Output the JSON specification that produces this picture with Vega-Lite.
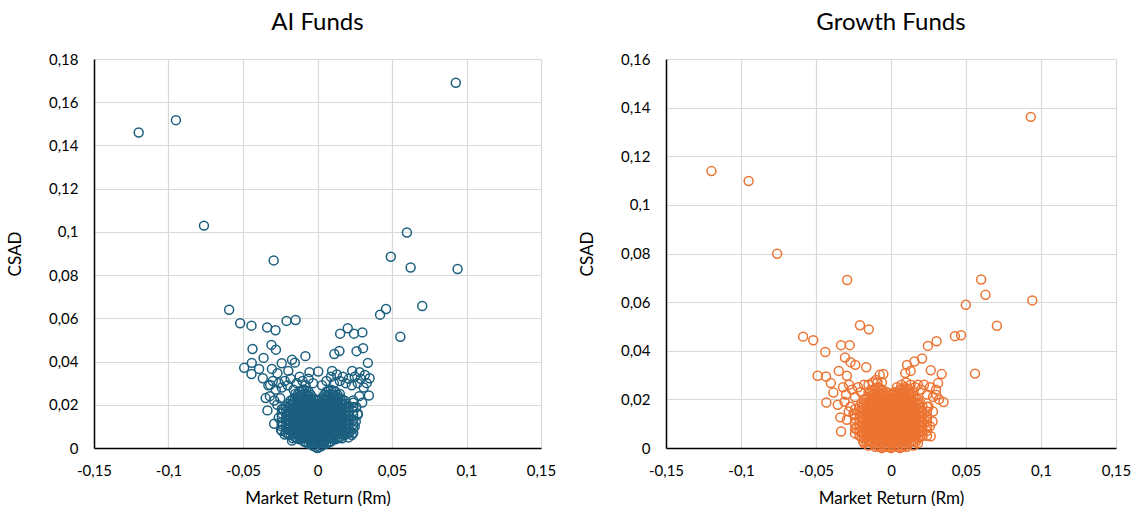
{
"$schema": "https://vega.github.io/schema/vega-lite/v6.json",
"background": "white",
"padding": {"left": 6, "top": 11, "right": 5, "bottom": 0},
"spacing": 22,
"config": {
"locale": {"number": {"decimal": ",", "thousands": ".", "grouping": [3], "currency": ["", " €"], "minus": "-"}},
"view": {"stroke": null},
"font": "Lato",
"axis": {"ticks": false, "grid": true, "gridColor": "#d9d9d9", "gridWidth": 1.2, "domainColor": "#000000", "domainWidth": 1.5, "labelFontSize": 15, "labelColor": "#000000", "labelFont": "Lato", "titleFont": "Lato", "titleFontSize": 17, "titleFontWeight": "normal", "titleColor": "#000000", "labelFlush": false, "labelOverlap": false, "labelBound": false},
"axisX": {"labelPadding": 15, "titlePadding": 12},
"axisY": {"labelPadding": 16, "titlePadding": 24},
"title": {"fontSize": 24, "fontWeight": "normal", "font": "Lato", "color": "#000000", "frame": "group", "anchor": "middle", "offset": 17}
},
"datasets": {
"ai": [
{"Rm":-0.120,"CSAD":0.146},{"Rm":-0.095,"CSAD":0.1517},{"Rm":0.0928,"CSAD":0.169},{"Rm":-0.0762,"CSAD":0.1029},{"Rm":-0.0294,"CSAD":0.0868},{"Rm":0.060,"CSAD":0.0997},{"Rm":0.0492,"CSAD":0.0885},{"Rm":0.0625,"CSAD":0.0835},{"Rm":0.094,"CSAD":0.0828},{"Rm":0.0703,"CSAD":0.0657},{"Rm":-0.0593,"CSAD":0.064},{"Rm":0.046,"CSAD":0.0643},{"Rm":0.042,"CSAD":0.0617},{"Rm":0.0556,"CSAD":0.0515},{"Rm":-0.0519,"CSAD":0.0577},{"Rm":-0.0443,"CSAD":0.0566},{"Rm":-0.0338,"CSAD":0.0558},{"Rm":-0.0282,"CSAD":0.0545},{"Rm":-0.0208,"CSAD":0.0588},{"Rm":-0.0147,"CSAD":0.0592},{"Rm":0.0203,"CSAD":0.0554},{"Rm":0.0152,"CSAD":0.0529},{"Rm":0.0245,"CSAD":0.0529},{"Rm":0.0301,"CSAD":0.0535},{"Rm":-0.0309,"CSAD":0.0477},{"Rm":-0.0279,"CSAD":0.0455},{"Rm":-0.0436,"CSAD":0.0458},{"Rm":-0.0081,"CSAD":0.0425},{"Rm":0.0113,"CSAD":0.0435},{"Rm":0.0147,"CSAD":0.0449},{"Rm":0.0262,"CSAD":0.0448},{"Rm":0.0306,"CSAD":0.0462},{"Rm":0.0338,"CSAD":0.0394},{"Rm":-0.0492,"CSAD":0.0371},{"Rm":-0.0443,"CSAD":0.0342},{"Rm":-0.0441,"CSAD":0.0394},{"Rm":-0.0362,"CSAD":0.0417},{"Rm":-0.0392,"CSAD":0.0366},{"Rm":-0.0171,"CSAD":0.0408},{"Rm":-0.0152,"CSAD":0.0395},{"Rm":-0.024,"CSAD":0.0392},{"Rm":-0.0336,"CSAD":0.0174},{"Rm":-0.0291,"CSAD":0.0112},{"Rm":-0.0348,"CSAD":0.0231},{"Rm":-0.0171,"CSAD":0.0034},{"Rm":0.0345,"CSAD":0.0243},{"Rm":0.035,"CSAD":0.0323},{"Rm":-0.0318,"CSAD":0.0292},{"Rm":-0.0054,"CSAD":0.0351},{"Rm":0.0005,"CSAD":0.0354},{"Rm":0.0098,"CSAD":0.0357},{"Rm":0.0233,"CSAD":0.0357},{"Rm":0.0282,"CSAD":0.0351},{"Rm":0.0318,"CSAD":0.0338},{"Rm":-0.0367,"CSAD":0.0323},{"Rm":-0.0306,"CSAD":0.0366},{"Rm":-0.0269,"CSAD":0.0346},{"Rm":-0.0196,"CSAD":0.0357},{"Rm":0.022,"CSAD":0.0077},{"Rm":0.0208,"CSAD":0.0049},{"Rm":0.027,"CSAD":0.0154},{"Rm":0.0257,"CSAD":0.0123},{"Rm":-0.0245,"CSAD":0.0085},{"Rm":-0.022,"CSAD":0.0062},
{"Rm":-0.033,"CSAD":0.029},{"Rm":-0.030,"CSAD":0.031},{"Rm":-0.028,"CSAD":0.027},{"Rm":-0.026,"CSAD":0.030},{"Rm":-0.024,"CSAD":0.028},{"Rm":-0.022,"CSAD":0.031},{"Rm":-0.020,"CSAD":0.029},{"Rm":-0.018,"CSAD":0.032},{"Rm":-0.016,"CSAD":0.027},{"Rm":-0.014,"CSAD":0.030},{"Rm":-0.012,"CSAD":0.033},{"Rm":-0.010,"CSAD":0.031},{"Rm":-0.008,"CSAD":0.029},{"Rm":-0.006,"CSAD":0.032},{"Rm":-0.003,"CSAD":0.030},{"Rm":0.003,"CSAD":0.029},{"Rm":0.006,"CSAD":0.031},{"Rm":0.009,"CSAD":0.033},{"Rm":0.011,"CSAD":0.030},{"Rm":0.013,"CSAD":0.034},{"Rm":0.015,"CSAD":0.031},{"Rm":0.017,"CSAD":0.033},{"Rm":0.019,"CSAD":0.030},{"Rm":0.021,"CSAD":0.032},{"Rm":0.023,"CSAD":0.029},{"Rm":0.025,"CSAD":0.033},{"Rm":0.027,"CSAD":0.030},{"Rm":0.029,"CSAD":0.032},{"Rm":0.031,"CSAD":0.028},{"Rm":0.033,"CSAD":0.030},{"Rm":-0.032,"CSAD":0.024},{"Rm":-0.029,"CSAD":0.022},{"Rm":-0.027,"CSAD":0.020},{"Rm":-0.025,"CSAD":0.023},{"Rm":-0.023,"CSAD":0.018},{"Rm":0.024,"CSAD":0.022},{"Rm":0.026,"CSAD":0.019},{"Rm":0.028,"CSAD":0.024},{"Rm":0.030,"CSAD":0.021},{"Rm":0.027,"CSAD":0.016},{"Rm":-0.026,"CSAD":0.014},{"Rm":-0.024,"CSAD":0.011},{"Rm":0.025,"CSAD":0.010},{"Rm":0.023,"CSAD":0.006},
{"Rm":-0.024,"CSAD":0.008},{"Rm":-0.024,"CSAD":0.010},{"Rm":-0.024,"CSAD":0.012},{"Rm":-0.024,"CSAD":0.014},{"Rm":-0.024,"CSAD":0.016},{"Rm":-0.024,"CSAD":0.018},
{"Rm":0.024,"CSAD":0.007},{"Rm":0.024,"CSAD":0.009},{"Rm":0.024,"CSAD":0.011},{"Rm":0.024,"CSAD":0.013},{"Rm":0.024,"CSAD":0.015},{"Rm":0.024,"CSAD":0.017},{"Rm":0.024,"CSAD":0.019},{"Rm":0.024,"CSAD":0.021},
{"Rm":-0.021,"CSAD":0.007},{"Rm":-0.021,"CSAD":0.009},{"Rm":-0.021,"CSAD":0.011},{"Rm":-0.021,"CSAD":0.013},{"Rm":-0.021,"CSAD":0.015},{"Rm":-0.021,"CSAD":0.017},{"Rm":-0.021,"CSAD":0.019},
{"Rm":-0.018,"CSAD":0.006},{"Rm":-0.018,"CSAD":0.008},{"Rm":-0.018,"CSAD":0.010},{"Rm":-0.018,"CSAD":0.012},{"Rm":-0.018,"CSAD":0.014},{"Rm":-0.018,"CSAD":0.016},{"Rm":-0.018,"CSAD":0.018},{"Rm":-0.018,"CSAD":0.020},{"Rm":-0.018,"CSAD":0.022},
{"Rm":-0.015,"CSAD":0.005},{"Rm":-0.015,"CSAD":0.007},{"Rm":-0.015,"CSAD":0.009},{"Rm":-0.015,"CSAD":0.011},{"Rm":-0.015,"CSAD":0.013},{"Rm":-0.015,"CSAD":0.015},{"Rm":-0.015,"CSAD":0.017},{"Rm":-0.015,"CSAD":0.019},{"Rm":-0.015,"CSAD":0.021},{"Rm":-0.015,"CSAD":0.023},{"Rm":-0.015,"CSAD":0.025},
{"Rm":-0.012,"CSAD":0.004},{"Rm":-0.012,"CSAD":0.006},{"Rm":-0.012,"CSAD":0.008},{"Rm":-0.012,"CSAD":0.010},{"Rm":-0.012,"CSAD":0.012},{"Rm":-0.012,"CSAD":0.014},{"Rm":-0.012,"CSAD":0.016},{"Rm":-0.012,"CSAD":0.018},{"Rm":-0.012,"CSAD":0.020},{"Rm":-0.012,"CSAD":0.022},{"Rm":-0.012,"CSAD":0.024},{"Rm":-0.012,"CSAD":0.026},
{"Rm":-0.009,"CSAD":0.003},{"Rm":-0.009,"CSAD":0.005},{"Rm":-0.009,"CSAD":0.007},{"Rm":-0.009,"CSAD":0.009},{"Rm":-0.009,"CSAD":0.011},{"Rm":-0.009,"CSAD":0.013},{"Rm":-0.009,"CSAD":0.015},{"Rm":-0.009,"CSAD":0.017},{"Rm":-0.009,"CSAD":0.019},{"Rm":-0.009,"CSAD":0.021},{"Rm":-0.009,"CSAD":0.023},{"Rm":-0.009,"CSAD":0.025},{"Rm":-0.009,"CSAD":0.027},
{"Rm":-0.006,"CSAD":0.002},{"Rm":-0.006,"CSAD":0.004},{"Rm":-0.006,"CSAD":0.006},{"Rm":-0.006,"CSAD":0.008},{"Rm":-0.006,"CSAD":0.010},{"Rm":-0.006,"CSAD":0.012},{"Rm":-0.006,"CSAD":0.014},{"Rm":-0.006,"CSAD":0.016},{"Rm":-0.006,"CSAD":0.018},{"Rm":-0.006,"CSAD":0.020},{"Rm":-0.006,"CSAD":0.022},{"Rm":-0.006,"CSAD":0.024},{"Rm":-0.006,"CSAD":0.026},
{"Rm":-0.003,"CSAD":0.001},{"Rm":-0.003,"CSAD":0.003},{"Rm":-0.003,"CSAD":0.005},{"Rm":-0.003,"CSAD":0.007},{"Rm":-0.003,"CSAD":0.009},{"Rm":-0.003,"CSAD":0.011},{"Rm":-0.003,"CSAD":0.013},{"Rm":-0.003,"CSAD":0.015},{"Rm":-0.003,"CSAD":0.017},{"Rm":-0.003,"CSAD":0.019},{"Rm":-0.003,"CSAD":0.021},{"Rm":-0.003,"CSAD":0.023},
{"Rm":0.0,"CSAD":0.000},{"Rm":0.0,"CSAD":0.002},{"Rm":0.0,"CSAD":0.004},{"Rm":0.0,"CSAD":0.006},{"Rm":0.0,"CSAD":0.008},{"Rm":0.0,"CSAD":0.010},{"Rm":0.0,"CSAD":0.012},{"Rm":0.0,"CSAD":0.014},{"Rm":0.0,"CSAD":0.016},{"Rm":0.0,"CSAD":0.018},{"Rm":0.0,"CSAD":0.020},{"Rm":0.0,"CSAD":0.022},
{"Rm":0.003,"CSAD":0.001},{"Rm":0.003,"CSAD":0.003},{"Rm":0.003,"CSAD":0.005},{"Rm":0.003,"CSAD":0.007},{"Rm":0.003,"CSAD":0.009},{"Rm":0.003,"CSAD":0.011},{"Rm":0.003,"CSAD":0.013},{"Rm":0.003,"CSAD":0.015},{"Rm":0.003,"CSAD":0.017},{"Rm":0.003,"CSAD":0.019},{"Rm":0.003,"CSAD":0.021},{"Rm":0.003,"CSAD":0.023},
{"Rm":0.006,"CSAD":0.002},{"Rm":0.006,"CSAD":0.004},{"Rm":0.006,"CSAD":0.006},{"Rm":0.006,"CSAD":0.008},{"Rm":0.006,"CSAD":0.010},{"Rm":0.006,"CSAD":0.012},{"Rm":0.006,"CSAD":0.014},{"Rm":0.006,"CSAD":0.016},{"Rm":0.006,"CSAD":0.018},{"Rm":0.006,"CSAD":0.020},{"Rm":0.006,"CSAD":0.022},{"Rm":0.006,"CSAD":0.024},{"Rm":0.006,"CSAD":0.026},
{"Rm":0.009,"CSAD":0.003},{"Rm":0.009,"CSAD":0.005},{"Rm":0.009,"CSAD":0.007},{"Rm":0.009,"CSAD":0.009},{"Rm":0.009,"CSAD":0.011},{"Rm":0.009,"CSAD":0.013},{"Rm":0.009,"CSAD":0.015},{"Rm":0.009,"CSAD":0.017},{"Rm":0.009,"CSAD":0.019},{"Rm":0.009,"CSAD":0.021},{"Rm":0.009,"CSAD":0.023},{"Rm":0.009,"CSAD":0.025},{"Rm":0.009,"CSAD":0.027},
{"Rm":0.012,"CSAD":0.004},{"Rm":0.012,"CSAD":0.006},{"Rm":0.012,"CSAD":0.008},{"Rm":0.012,"CSAD":0.010},{"Rm":0.012,"CSAD":0.012},{"Rm":0.012,"CSAD":0.014},{"Rm":0.012,"CSAD":0.016},{"Rm":0.012,"CSAD":0.018},{"Rm":0.012,"CSAD":0.020},{"Rm":0.012,"CSAD":0.022},{"Rm":0.012,"CSAD":0.024},{"Rm":0.012,"CSAD":0.026},
{"Rm":0.015,"CSAD":0.005},{"Rm":0.015,"CSAD":0.007},{"Rm":0.015,"CSAD":0.009},{"Rm":0.015,"CSAD":0.011},{"Rm":0.015,"CSAD":0.013},{"Rm":0.015,"CSAD":0.015},{"Rm":0.015,"CSAD":0.017},{"Rm":0.015,"CSAD":0.019},{"Rm":0.015,"CSAD":0.021},{"Rm":0.015,"CSAD":0.023},{"Rm":0.015,"CSAD":0.025},
{"Rm":0.018,"CSAD":0.006},{"Rm":0.018,"CSAD":0.008},{"Rm":0.018,"CSAD":0.010},{"Rm":0.018,"CSAD":0.012},{"Rm":0.018,"CSAD":0.014},{"Rm":0.018,"CSAD":0.016},{"Rm":0.018,"CSAD":0.018},{"Rm":0.018,"CSAD":0.020},{"Rm":0.018,"CSAD":0.022},
{"Rm":0.021,"CSAD":0.007},{"Rm":0.021,"CSAD":0.009},{"Rm":0.021,"CSAD":0.011},{"Rm":0.021,"CSAD":0.013},{"Rm":0.021,"CSAD":0.015},{"Rm":0.021,"CSAD":0.017},{"Rm":0.021,"CSAD":0.019},
{"Rm":-0.0195,"CSAD":0.0065},{"Rm":-0.0195,"CSAD":0.0085},{"Rm":-0.0195,"CSAD":0.0105},{"Rm":-0.0195,"CSAD":0.0125},{"Rm":-0.0195,"CSAD":0.0145},{"Rm":-0.0195,"CSAD":0.0165},{"Rm":-0.0195,"CSAD":0.0185},{"Rm":-0.0195,"CSAD":0.0205},
{"Rm":-0.0165,"CSAD":0.0045},{"Rm":-0.0165,"CSAD":0.0065},{"Rm":-0.0165,"CSAD":0.0085},{"Rm":-0.0165,"CSAD":0.0105},{"Rm":-0.0165,"CSAD":0.0125},{"Rm":-0.0165,"CSAD":0.0145},{"Rm":-0.0165,"CSAD":0.0165},{"Rm":-0.0165,"CSAD":0.0185},{"Rm":-0.0165,"CSAD":0.0205},{"Rm":-0.0165,"CSAD":0.0225},
{"Rm":-0.0135,"CSAD":0.0045},{"Rm":-0.0135,"CSAD":0.0065},{"Rm":-0.0135,"CSAD":0.0085},{"Rm":-0.0135,"CSAD":0.0105},{"Rm":-0.0135,"CSAD":0.0125},{"Rm":-0.0135,"CSAD":0.0145},{"Rm":-0.0135,"CSAD":0.0165},{"Rm":-0.0135,"CSAD":0.0185},{"Rm":-0.0135,"CSAD":0.0205},{"Rm":-0.0135,"CSAD":0.0225},{"Rm":-0.0135,"CSAD":0.0245},
{"Rm":-0.0105,"CSAD":0.0045},{"Rm":-0.0105,"CSAD":0.0065},{"Rm":-0.0105,"CSAD":0.0085},{"Rm":-0.0105,"CSAD":0.0105},{"Rm":-0.0105,"CSAD":0.0125},{"Rm":-0.0105,"CSAD":0.0145},{"Rm":-0.0105,"CSAD":0.0165},{"Rm":-0.0105,"CSAD":0.0185},{"Rm":-0.0105,"CSAD":0.0205},{"Rm":-0.0105,"CSAD":0.0225},{"Rm":-0.0105,"CSAD":0.0245},{"Rm":-0.0105,"CSAD":0.0265},
{"Rm":-0.0075,"CSAD":0.0025},{"Rm":-0.0075,"CSAD":0.0045},{"Rm":-0.0075,"CSAD":0.0065},{"Rm":-0.0075,"CSAD":0.0085},{"Rm":-0.0075,"CSAD":0.0105},{"Rm":-0.0075,"CSAD":0.0125},{"Rm":-0.0075,"CSAD":0.0145},{"Rm":-0.0075,"CSAD":0.0165},{"Rm":-0.0075,"CSAD":0.0185},{"Rm":-0.0075,"CSAD":0.0205},{"Rm":-0.0075,"CSAD":0.0225},{"Rm":-0.0075,"CSAD":0.0245},{"Rm":-0.0075,"CSAD":0.0265},
{"Rm":-0.0045,"CSAD":0.0025},{"Rm":-0.0045,"CSAD":0.0045},{"Rm":-0.0045,"CSAD":0.0065},{"Rm":-0.0045,"CSAD":0.0085},{"Rm":-0.0045,"CSAD":0.0105},{"Rm":-0.0045,"CSAD":0.0125},{"Rm":-0.0045,"CSAD":0.0145},{"Rm":-0.0045,"CSAD":0.0165},{"Rm":-0.0045,"CSAD":0.0185},{"Rm":-0.0045,"CSAD":0.0205},{"Rm":-0.0045,"CSAD":0.0225},{"Rm":-0.0045,"CSAD":0.0245},
{"Rm":-0.0015,"CSAD":0.0005},{"Rm":-0.0015,"CSAD":0.0025},{"Rm":-0.0015,"CSAD":0.0045},{"Rm":-0.0015,"CSAD":0.0065},{"Rm":-0.0015,"CSAD":0.0085},{"Rm":-0.0015,"CSAD":0.0105},{"Rm":-0.0015,"CSAD":0.0125},{"Rm":-0.0015,"CSAD":0.0145},{"Rm":-0.0015,"CSAD":0.0165},{"Rm":-0.0015,"CSAD":0.0185},{"Rm":-0.0015,"CSAD":0.0205},{"Rm":-0.0015,"CSAD":0.0225},
{"Rm":0.0015,"CSAD":0.0005},{"Rm":0.0015,"CSAD":0.0025},{"Rm":0.0015,"CSAD":0.0045},{"Rm":0.0015,"CSAD":0.0065},{"Rm":0.0015,"CSAD":0.0085},{"Rm":0.0015,"CSAD":0.0105},{"Rm":0.0015,"CSAD":0.0125},{"Rm":0.0015,"CSAD":0.0145},{"Rm":0.0015,"CSAD":0.0165},{"Rm":0.0015,"CSAD":0.0185},{"Rm":0.0015,"CSAD":0.0205},{"Rm":0.0015,"CSAD":0.0225},
{"Rm":0.0045,"CSAD":0.0025},{"Rm":0.0045,"CSAD":0.0045},{"Rm":0.0045,"CSAD":0.0065},{"Rm":0.0045,"CSAD":0.0085},{"Rm":0.0045,"CSAD":0.0105},{"Rm":0.0045,"CSAD":0.0125},{"Rm":0.0045,"CSAD":0.0145},{"Rm":0.0045,"CSAD":0.0165},{"Rm":0.0045,"CSAD":0.0185},{"Rm":0.0045,"CSAD":0.0205},{"Rm":0.0045,"CSAD":0.0225},{"Rm":0.0045,"CSAD":0.0245},
{"Rm":0.0075,"CSAD":0.0025},{"Rm":0.0075,"CSAD":0.0045},{"Rm":0.0075,"CSAD":0.0065},{"Rm":0.0075,"CSAD":0.0085},{"Rm":0.0075,"CSAD":0.0105},{"Rm":0.0075,"CSAD":0.0125},{"Rm":0.0075,"CSAD":0.0145},{"Rm":0.0075,"CSAD":0.0165},{"Rm":0.0075,"CSAD":0.0185},{"Rm":0.0075,"CSAD":0.0205},{"Rm":0.0075,"CSAD":0.0225},{"Rm":0.0075,"CSAD":0.0245},{"Rm":0.0075,"CSAD":0.0265},
{"Rm":0.0105,"CSAD":0.0045},{"Rm":0.0105,"CSAD":0.0065},{"Rm":0.0105,"CSAD":0.0085},{"Rm":0.0105,"CSAD":0.0105},{"Rm":0.0105,"CSAD":0.0125},{"Rm":0.0105,"CSAD":0.0145},{"Rm":0.0105,"CSAD":0.0165},{"Rm":0.0105,"CSAD":0.0185},{"Rm":0.0105,"CSAD":0.0205},{"Rm":0.0105,"CSAD":0.0225},{"Rm":0.0105,"CSAD":0.0245},{"Rm":0.0105,"CSAD":0.0265},
{"Rm":0.0135,"CSAD":0.0045},{"Rm":0.0135,"CSAD":0.0065},{"Rm":0.0135,"CSAD":0.0085},{"Rm":0.0135,"CSAD":0.0105},{"Rm":0.0135,"CSAD":0.0125},{"Rm":0.0135,"CSAD":0.0145},{"Rm":0.0135,"CSAD":0.0165},{"Rm":0.0135,"CSAD":0.0185},{"Rm":0.0135,"CSAD":0.0205},{"Rm":0.0135,"CSAD":0.0225},{"Rm":0.0135,"CSAD":0.0245},
{"Rm":0.0165,"CSAD":0.0045},{"Rm":0.0165,"CSAD":0.0065},{"Rm":0.0165,"CSAD":0.0085},{"Rm":0.0165,"CSAD":0.0105},{"Rm":0.0165,"CSAD":0.0125},{"Rm":0.0165,"CSAD":0.0145},{"Rm":0.0165,"CSAD":0.0165},{"Rm":0.0165,"CSAD":0.0185},{"Rm":0.0165,"CSAD":0.0205},{"Rm":0.0165,"CSAD":0.0225},
{"Rm":0.0195,"CSAD":0.0065},{"Rm":0.0195,"CSAD":0.0085},{"Rm":0.0195,"CSAD":0.0105},{"Rm":0.0195,"CSAD":0.0125},{"Rm":0.0195,"CSAD":0.0145},{"Rm":0.0195,"CSAD":0.0165},{"Rm":0.0195,"CSAD":0.0185},{"Rm":0.0195,"CSAD":0.0205}
],
"growth": [
{"Rm":-0.1197,"CSAD":0.1139},{"Rm":-0.0949,"CSAD":0.1098},{"Rm":0.0932,"CSAD":0.1362},{"Rm":-0.0759,"CSAD":0.0799},{"Rm":-0.0292,"CSAD":0.0691},{"Rm":0.0601,"CSAD":0.0693},{"Rm":0.063,"CSAD":0.063},{"Rm":0.0499,"CSAD":0.0589},{"Rm":0.0942,"CSAD":0.0607},{"Rm":0.0706,"CSAD":0.0503},{"Rm":-0.0207,"CSAD":0.0505},{"Rm":-0.0148,"CSAD":0.0488},{"Rm":-0.0586,"CSAD":0.0458},{"Rm":-0.0518,"CSAD":0.0443},{"Rm":-0.0438,"CSAD":0.0395},{"Rm":-0.0333,"CSAD":0.0423},{"Rm":-0.0275,"CSAD":0.0423},{"Rm":0.0426,"CSAD":0.046},{"Rm":0.0467,"CSAD":0.0464},{"Rm":0.0304,"CSAD":0.0439},{"Rm":0.0246,"CSAD":0.042},{"Rm":0.056,"CSAD":0.0306},{"Rm":0.0207,"CSAD":0.0368},{"Rm":0.0156,"CSAD":0.0356},{"Rm":-0.0307,"CSAD":0.0372},{"Rm":-0.027,"CSAD":0.0353},{"Rm":-0.0238,"CSAD":0.0342},{"Rm":-0.0165,"CSAD":0.0332},{"Rm":-0.0489,"CSAD":0.0297},{"Rm":-0.0433,"CSAD":0.0294},{"Rm":-0.0348,"CSAD":0.0317},{"Rm":-0.0294,"CSAD":0.0297},{"Rm":-0.0401,"CSAD":0.0267},{"Rm":-0.0384,"CSAD":0.0228},{"Rm":-0.0431,"CSAD":0.0187},{"Rm":-0.0333,"CSAD":0.0068},{"Rm":-0.0338,"CSAD":0.0126},{"Rm":-0.0355,"CSAD":0.0178},{"Rm":0.0265,"CSAD":0.032},{"Rm":0.0338,"CSAD":0.0304},{"Rm":0.0314,"CSAD":0.0267},{"Rm":0.035,"CSAD":0.0189},{"Rm":0.0265,"CSAD":0.0048},{"Rm":0.0107,"CSAD":0.0342},{"Rm":0.0131,"CSAD":0.0317},{"Rm":-0.0075,"CSAD":0.0301},{"Rm":-0.0051,"CSAD":0.0304},{"Rm":-0.01,"CSAD":0.028},{"Rm":0.0095,"CSAD":0.0308},{"Rm":0.0302,"CSAD":0.0219},{"Rm":0.0277,"CSAD":0.0109},{"Rm":-0.0294,"CSAD":0.0116},{"Rm":-0.0282,"CSAD":0.015},{"Rm":-0.0185,"CSAD":0.0027},
{"Rm":-0.032,"CSAD":0.025},{"Rm":-0.030,"CSAD":0.022},{"Rm":-0.028,"CSAD":0.026},{"Rm":-0.026,"CSAD":0.024},{"Rm":-0.024,"CSAD":0.021},{"Rm":-0.022,"CSAD":0.025},{"Rm":-0.020,"CSAD":0.023},{"Rm":-0.018,"CSAD":0.026},{"Rm":-0.015,"CSAD":0.026},{"Rm":-0.012,"CSAD":0.027},{"Rm":-0.009,"CSAD":0.027},{"Rm":-0.006,"CSAD":0.027},{"Rm":0.004,"CSAD":0.025},{"Rm":0.007,"CSAD":0.026},{"Rm":0.010,"CSAD":0.027},{"Rm":0.013,"CSAD":0.026},{"Rm":0.016,"CSAD":0.025},{"Rm":0.018,"CSAD":0.026},{"Rm":0.020,"CSAD":0.024},{"Rm":0.022,"CSAD":0.026},{"Rm":0.024,"CSAD":0.022},{"Rm":0.026,"CSAD":0.025},{"Rm":0.028,"CSAD":0.021},{"Rm":0.030,"CSAD":0.024},{"Rm":0.032,"CSAD":0.020},{"Rm":-0.031,"CSAD":0.019},{"Rm":-0.027,"CSAD":0.017},{"Rm":-0.025,"CSAD":0.014},{"Rm":0.025,"CSAD":0.017},{"Rm":0.028,"CSAD":0.015},{"Rm":0.024,"CSAD":0.012},{"Rm":0.026,"CSAD":0.009},{"Rm":-0.023,"CSAD":0.008},{"Rm":-0.021,"CSAD":0.005},
{"Rm":-0.024,"CSAD":0.006},{"Rm":-0.024,"CSAD":0.008},{"Rm":-0.024,"CSAD":0.010},{"Rm":-0.024,"CSAD":0.012},{"Rm":-0.024,"CSAD":0.014},{"Rm":-0.024,"CSAD":0.016},
{"Rm":0.024,"CSAD":0.005},{"Rm":0.024,"CSAD":0.007},{"Rm":0.024,"CSAD":0.009},{"Rm":0.024,"CSAD":0.011},{"Rm":0.024,"CSAD":0.013},{"Rm":0.024,"CSAD":0.015},{"Rm":0.024,"CSAD":0.017},
{"Rm":-0.021,"CSAD":0.007},{"Rm":-0.021,"CSAD":0.009},{"Rm":-0.021,"CSAD":0.011},{"Rm":-0.021,"CSAD":0.013},{"Rm":-0.021,"CSAD":0.015},{"Rm":-0.021,"CSAD":0.017},
{"Rm":-0.018,"CSAD":0.002},{"Rm":-0.018,"CSAD":0.004},{"Rm":-0.018,"CSAD":0.006},{"Rm":-0.018,"CSAD":0.008},{"Rm":-0.018,"CSAD":0.010},{"Rm":-0.018,"CSAD":0.012},{"Rm":-0.018,"CSAD":0.014},{"Rm":-0.018,"CSAD":0.016},{"Rm":-0.018,"CSAD":0.018},{"Rm":-0.018,"CSAD":0.020},
{"Rm":-0.015,"CSAD":0.001},{"Rm":-0.015,"CSAD":0.003},{"Rm":-0.015,"CSAD":0.005},{"Rm":-0.015,"CSAD":0.007},{"Rm":-0.015,"CSAD":0.009},{"Rm":-0.015,"CSAD":0.011},{"Rm":-0.015,"CSAD":0.013},{"Rm":-0.015,"CSAD":0.015},{"Rm":-0.015,"CSAD":0.017},{"Rm":-0.015,"CSAD":0.019},{"Rm":-0.015,"CSAD":0.021},{"Rm":-0.015,"CSAD":0.023},
{"Rm":-0.012,"CSAD":0.002},{"Rm":-0.012,"CSAD":0.004},{"Rm":-0.012,"CSAD":0.006},{"Rm":-0.012,"CSAD":0.008},{"Rm":-0.012,"CSAD":0.010},{"Rm":-0.012,"CSAD":0.012},{"Rm":-0.012,"CSAD":0.014},{"Rm":-0.012,"CSAD":0.016},{"Rm":-0.012,"CSAD":0.018},{"Rm":-0.012,"CSAD":0.020},{"Rm":-0.012,"CSAD":0.022},{"Rm":-0.012,"CSAD":0.024},
{"Rm":-0.009,"CSAD":0.001},{"Rm":-0.009,"CSAD":0.003},{"Rm":-0.009,"CSAD":0.005},{"Rm":-0.009,"CSAD":0.007},{"Rm":-0.009,"CSAD":0.009},{"Rm":-0.009,"CSAD":0.011},{"Rm":-0.009,"CSAD":0.013},{"Rm":-0.009,"CSAD":0.015},{"Rm":-0.009,"CSAD":0.017},{"Rm":-0.009,"CSAD":0.019},{"Rm":-0.009,"CSAD":0.021},{"Rm":-0.009,"CSAD":0.023},{"Rm":-0.009,"CSAD":0.025},
{"Rm":-0.006,"CSAD":0.000},{"Rm":-0.006,"CSAD":0.002},{"Rm":-0.006,"CSAD":0.004},{"Rm":-0.006,"CSAD":0.006},{"Rm":-0.006,"CSAD":0.008},{"Rm":-0.006,"CSAD":0.010},{"Rm":-0.006,"CSAD":0.012},{"Rm":-0.006,"CSAD":0.014},{"Rm":-0.006,"CSAD":0.016},{"Rm":-0.006,"CSAD":0.018},{"Rm":-0.006,"CSAD":0.020},{"Rm":-0.006,"CSAD":0.022},{"Rm":-0.006,"CSAD":0.024},
{"Rm":-0.003,"CSAD":0.001},{"Rm":-0.003,"CSAD":0.003},{"Rm":-0.003,"CSAD":0.005},{"Rm":-0.003,"CSAD":0.007},{"Rm":-0.003,"CSAD":0.009},{"Rm":-0.003,"CSAD":0.011},{"Rm":-0.003,"CSAD":0.013},{"Rm":-0.003,"CSAD":0.015},{"Rm":-0.003,"CSAD":0.017},{"Rm":-0.003,"CSAD":0.019},{"Rm":-0.003,"CSAD":0.021},{"Rm":-0.003,"CSAD":0.023},
{"Rm":0.0,"CSAD":0.000},{"Rm":0.0,"CSAD":0.002},{"Rm":0.0,"CSAD":0.004},{"Rm":0.0,"CSAD":0.006},{"Rm":0.0,"CSAD":0.008},{"Rm":0.0,"CSAD":0.010},{"Rm":0.0,"CSAD":0.012},{"Rm":0.0,"CSAD":0.014},{"Rm":0.0,"CSAD":0.016},{"Rm":0.0,"CSAD":0.018},{"Rm":0.0,"CSAD":0.020},{"Rm":0.0,"CSAD":0.022},
{"Rm":0.003,"CSAD":0.001},{"Rm":0.003,"CSAD":0.003},{"Rm":0.003,"CSAD":0.005},{"Rm":0.003,"CSAD":0.007},{"Rm":0.003,"CSAD":0.009},{"Rm":0.003,"CSAD":0.011},{"Rm":0.003,"CSAD":0.013},{"Rm":0.003,"CSAD":0.015},{"Rm":0.003,"CSAD":0.017},{"Rm":0.003,"CSAD":0.019},{"Rm":0.003,"CSAD":0.021},{"Rm":0.003,"CSAD":0.023},
{"Rm":0.006,"CSAD":0.000},{"Rm":0.006,"CSAD":0.002},{"Rm":0.006,"CSAD":0.004},{"Rm":0.006,"CSAD":0.006},{"Rm":0.006,"CSAD":0.008},{"Rm":0.006,"CSAD":0.010},{"Rm":0.006,"CSAD":0.012},{"Rm":0.006,"CSAD":0.014},{"Rm":0.006,"CSAD":0.016},{"Rm":0.006,"CSAD":0.018},{"Rm":0.006,"CSAD":0.020},{"Rm":0.006,"CSAD":0.022},{"Rm":0.006,"CSAD":0.024},
{"Rm":0.009,"CSAD":0.001},{"Rm":0.009,"CSAD":0.003},{"Rm":0.009,"CSAD":0.005},{"Rm":0.009,"CSAD":0.007},{"Rm":0.009,"CSAD":0.009},{"Rm":0.009,"CSAD":0.011},{"Rm":0.009,"CSAD":0.013},{"Rm":0.009,"CSAD":0.015},{"Rm":0.009,"CSAD":0.017},{"Rm":0.009,"CSAD":0.019},{"Rm":0.009,"CSAD":0.021},{"Rm":0.009,"CSAD":0.023},{"Rm":0.009,"CSAD":0.025},
{"Rm":0.012,"CSAD":0.002},{"Rm":0.012,"CSAD":0.004},{"Rm":0.012,"CSAD":0.006},{"Rm":0.012,"CSAD":0.008},{"Rm":0.012,"CSAD":0.010},{"Rm":0.012,"CSAD":0.012},{"Rm":0.012,"CSAD":0.014},{"Rm":0.012,"CSAD":0.016},{"Rm":0.012,"CSAD":0.018},{"Rm":0.012,"CSAD":0.020},{"Rm":0.012,"CSAD":0.022},{"Rm":0.012,"CSAD":0.024},
{"Rm":0.015,"CSAD":0.001},{"Rm":0.015,"CSAD":0.003},{"Rm":0.015,"CSAD":0.005},{"Rm":0.015,"CSAD":0.007},{"Rm":0.015,"CSAD":0.009},{"Rm":0.015,"CSAD":0.011},{"Rm":0.015,"CSAD":0.013},{"Rm":0.015,"CSAD":0.015},{"Rm":0.015,"CSAD":0.017},{"Rm":0.015,"CSAD":0.019},{"Rm":0.015,"CSAD":0.021},{"Rm":0.015,"CSAD":0.023},
{"Rm":0.018,"CSAD":0.002},{"Rm":0.018,"CSAD":0.004},{"Rm":0.018,"CSAD":0.006},{"Rm":0.018,"CSAD":0.008},{"Rm":0.018,"CSAD":0.010},{"Rm":0.018,"CSAD":0.012},{"Rm":0.018,"CSAD":0.014},{"Rm":0.018,"CSAD":0.016},{"Rm":0.018,"CSAD":0.018},{"Rm":0.018,"CSAD":0.020},
{"Rm":0.021,"CSAD":0.005},{"Rm":0.021,"CSAD":0.007},{"Rm":0.021,"CSAD":0.009},{"Rm":0.021,"CSAD":0.011},{"Rm":0.021,"CSAD":0.013},{"Rm":0.021,"CSAD":0.015},{"Rm":0.021,"CSAD":0.017},
{"Rm":-0.0195,"CSAD":0.0045},{"Rm":-0.0195,"CSAD":0.0065},{"Rm":-0.0195,"CSAD":0.0085},{"Rm":-0.0195,"CSAD":0.0105},{"Rm":-0.0195,"CSAD":0.0125},{"Rm":-0.0195,"CSAD":0.0145},{"Rm":-0.0195,"CSAD":0.0165},{"Rm":-0.0195,"CSAD":0.0185},
{"Rm":-0.0165,"CSAD":0.0025},{"Rm":-0.0165,"CSAD":0.0045},{"Rm":-0.0165,"CSAD":0.0065},{"Rm":-0.0165,"CSAD":0.0085},{"Rm":-0.0165,"CSAD":0.0105},{"Rm":-0.0165,"CSAD":0.0125},{"Rm":-0.0165,"CSAD":0.0145},{"Rm":-0.0165,"CSAD":0.0165},{"Rm":-0.0165,"CSAD":0.0185},{"Rm":-0.0165,"CSAD":0.0205},
{"Rm":-0.0135,"CSAD":0.0025},{"Rm":-0.0135,"CSAD":0.0045},{"Rm":-0.0135,"CSAD":0.0065},{"Rm":-0.0135,"CSAD":0.0085},{"Rm":-0.0135,"CSAD":0.0105},{"Rm":-0.0135,"CSAD":0.0125},{"Rm":-0.0135,"CSAD":0.0145},{"Rm":-0.0135,"CSAD":0.0165},{"Rm":-0.0135,"CSAD":0.0185},{"Rm":-0.0135,"CSAD":0.0205},{"Rm":-0.0135,"CSAD":0.0225},
{"Rm":-0.0105,"CSAD":0.0005},{"Rm":-0.0105,"CSAD":0.0025},{"Rm":-0.0105,"CSAD":0.0045},{"Rm":-0.0105,"CSAD":0.0065},{"Rm":-0.0105,"CSAD":0.0085},{"Rm":-0.0105,"CSAD":0.0105},{"Rm":-0.0105,"CSAD":0.0125},{"Rm":-0.0105,"CSAD":0.0145},{"Rm":-0.0105,"CSAD":0.0165},{"Rm":-0.0105,"CSAD":0.0185},{"Rm":-0.0105,"CSAD":0.0205},{"Rm":-0.0105,"CSAD":0.0225},{"Rm":-0.0105,"CSAD":0.0245},
{"Rm":-0.0075,"CSAD":0.0005},{"Rm":-0.0075,"CSAD":0.0025},{"Rm":-0.0075,"CSAD":0.0045},{"Rm":-0.0075,"CSAD":0.0065},{"Rm":-0.0075,"CSAD":0.0085},{"Rm":-0.0075,"CSAD":0.0105},{"Rm":-0.0075,"CSAD":0.0125},{"Rm":-0.0075,"CSAD":0.0145},{"Rm":-0.0075,"CSAD":0.0165},{"Rm":-0.0075,"CSAD":0.0185},{"Rm":-0.0075,"CSAD":0.0205},{"Rm":-0.0075,"CSAD":0.0225},{"Rm":-0.0075,"CSAD":0.0245},
{"Rm":-0.0045,"CSAD":0.0005},{"Rm":-0.0045,"CSAD":0.0025},{"Rm":-0.0045,"CSAD":0.0045},{"Rm":-0.0045,"CSAD":0.0065},{"Rm":-0.0045,"CSAD":0.0085},{"Rm":-0.0045,"CSAD":0.0105},{"Rm":-0.0045,"CSAD":0.0125},{"Rm":-0.0045,"CSAD":0.0145},{"Rm":-0.0045,"CSAD":0.0165},{"Rm":-0.0045,"CSAD":0.0185},{"Rm":-0.0045,"CSAD":0.0205},{"Rm":-0.0045,"CSAD":0.0225},
{"Rm":-0.0015,"CSAD":0.0005},{"Rm":-0.0015,"CSAD":0.0025},{"Rm":-0.0015,"CSAD":0.0045},{"Rm":-0.0015,"CSAD":0.0065},{"Rm":-0.0015,"CSAD":0.0085},{"Rm":-0.0015,"CSAD":0.0105},{"Rm":-0.0015,"CSAD":0.0125},{"Rm":-0.0015,"CSAD":0.0145},{"Rm":-0.0015,"CSAD":0.0165},{"Rm":-0.0015,"CSAD":0.0185},{"Rm":-0.0015,"CSAD":0.0205},{"Rm":-0.0015,"CSAD":0.0225},
{"Rm":0.0015,"CSAD":0.0005},{"Rm":0.0015,"CSAD":0.0025},{"Rm":0.0015,"CSAD":0.0045},{"Rm":0.0015,"CSAD":0.0065},{"Rm":0.0015,"CSAD":0.0085},{"Rm":0.0015,"CSAD":0.0105},{"Rm":0.0015,"CSAD":0.0125},{"Rm":0.0015,"CSAD":0.0145},{"Rm":0.0015,"CSAD":0.0165},{"Rm":0.0015,"CSAD":0.0185},{"Rm":0.0015,"CSAD":0.0205},{"Rm":0.0015,"CSAD":0.0225},
{"Rm":0.0045,"CSAD":0.0005},{"Rm":0.0045,"CSAD":0.0025},{"Rm":0.0045,"CSAD":0.0045},{"Rm":0.0045,"CSAD":0.0065},{"Rm":0.0045,"CSAD":0.0085},{"Rm":0.0045,"CSAD":0.0105},{"Rm":0.0045,"CSAD":0.0125},{"Rm":0.0045,"CSAD":0.0145},{"Rm":0.0045,"CSAD":0.0165},{"Rm":0.0045,"CSAD":0.0185},{"Rm":0.0045,"CSAD":0.0205},{"Rm":0.0045,"CSAD":0.0225},
{"Rm":0.0075,"CSAD":0.0005},{"Rm":0.0075,"CSAD":0.0025},{"Rm":0.0075,"CSAD":0.0045},{"Rm":0.0075,"CSAD":0.0065},{"Rm":0.0075,"CSAD":0.0085},{"Rm":0.0075,"CSAD":0.0105},{"Rm":0.0075,"CSAD":0.0125},{"Rm":0.0075,"CSAD":0.0145},{"Rm":0.0075,"CSAD":0.0165},{"Rm":0.0075,"CSAD":0.0185},{"Rm":0.0075,"CSAD":0.0205},{"Rm":0.0075,"CSAD":0.0225},{"Rm":0.0075,"CSAD":0.0245},
{"Rm":0.0105,"CSAD":0.0005},{"Rm":0.0105,"CSAD":0.0025},{"Rm":0.0105,"CSAD":0.0045},{"Rm":0.0105,"CSAD":0.0065},{"Rm":0.0105,"CSAD":0.0085},{"Rm":0.0105,"CSAD":0.0105},{"Rm":0.0105,"CSAD":0.0125},{"Rm":0.0105,"CSAD":0.0145},{"Rm":0.0105,"CSAD":0.0165},{"Rm":0.0105,"CSAD":0.0185},{"Rm":0.0105,"CSAD":0.0205},{"Rm":0.0105,"CSAD":0.0225},{"Rm":0.0105,"CSAD":0.0245},
{"Rm":0.0135,"CSAD":0.0025},{"Rm":0.0135,"CSAD":0.0045},{"Rm":0.0135,"CSAD":0.0065},{"Rm":0.0135,"CSAD":0.0085},{"Rm":0.0135,"CSAD":0.0105},{"Rm":0.0135,"CSAD":0.0125},{"Rm":0.0135,"CSAD":0.0145},{"Rm":0.0135,"CSAD":0.0165},{"Rm":0.0135,"CSAD":0.0185},{"Rm":0.0135,"CSAD":0.0205},{"Rm":0.0135,"CSAD":0.0225},
{"Rm":0.0165,"CSAD":0.0025},{"Rm":0.0165,"CSAD":0.0045},{"Rm":0.0165,"CSAD":0.0065},{"Rm":0.0165,"CSAD":0.0085},{"Rm":0.0165,"CSAD":0.0105},{"Rm":0.0165,"CSAD":0.0125},{"Rm":0.0165,"CSAD":0.0145},{"Rm":0.0165,"CSAD":0.0165},{"Rm":0.0165,"CSAD":0.0185},{"Rm":0.0165,"CSAD":0.0205},
{"Rm":0.0195,"CSAD":0.0045},{"Rm":0.0195,"CSAD":0.0065},{"Rm":0.0195,"CSAD":0.0085},{"Rm":0.0195,"CSAD":0.0105},{"Rm":0.0195,"CSAD":0.0125},{"Rm":0.0195,"CSAD":0.0145},{"Rm":0.0195,"CSAD":0.0165},{"Rm":0.0195,"CSAD":0.0185}
]
},
"hconcat": [
{
"title": {"text": "AI Funds"},
"width": 447, "height": 389,
"data": {"name": "ai"},
"mark": {"type": "point", "filled": false, "size": 80, "strokeWidth": 1.5, "color": "#1b5f7f", "opacity": 1},
"encoding": {
"x": {"field": "Rm", "type": "quantitative", "title": "Market Return (Rm)", "scale": {"domain": [-0.15, 0.15], "nice": false, "zero": false}, "axis": {"values": [-0.15, -0.1, -0.05, 0, 0.05, 0.1, 0.15], "format": ".2~f"}},
"y": {"field": "CSAD", "type": "quantitative", "title": "CSAD", "scale": {"domain": [0, 0.18], "nice": false}, "axis": {"values": [0, 0.02, 0.04, 0.06, 0.08, 0.1, 0.12, 0.14, 0.16, 0.18], "format": ".2~f"}}
}
},
{
"title": {"text": "Growth Funds"},
"width": 450, "height": 389,
"data": {"name": "growth"},
"mark": {"type": "point", "filled": false, "size": 80, "strokeWidth": 1.5, "color": "#ec7331", "opacity": 1},
"encoding": {
"x": {"field": "Rm", "type": "quantitative", "title": "Market Return (Rm)", "scale": {"domain": [-0.15, 0.15], "nice": false, "zero": false}, "axis": {"values": [-0.15, -0.1, -0.05, 0, 0.05, 0.1, 0.15], "format": ".2~f"}},
"y": {"field": "CSAD", "type": "quantitative", "title": "CSAD", "scale": {"domain": [0, 0.16], "nice": false}, "axis": {"values": [0, 0.02, 0.04, 0.06, 0.08, 0.1, 0.12, 0.14, 0.16], "format": ".2~f"}}
}
}
]
}
